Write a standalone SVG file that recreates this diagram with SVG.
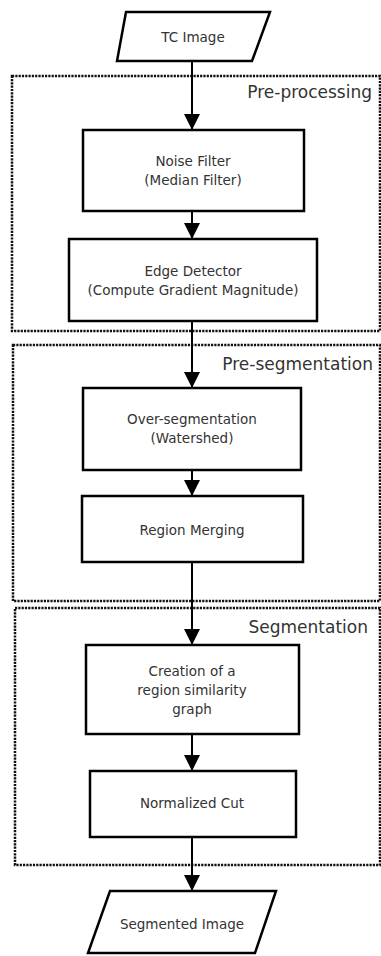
<svg xmlns="http://www.w3.org/2000/svg" width="381" height="956" viewBox="0 0 381 956">
<style>
  .box { fill: #ffffff; stroke: #000000; stroke-width: 2.5; }
  .grp { fill: none; stroke: #111111; stroke-width: 2.5; stroke-dasharray: 2.2 1.1; }
  .t { font-family: "DejaVu Sans", Verdana, sans-serif; font-size: 13.5px; fill: #333333; text-anchor: middle; }
  .lbl { font-family: "DejaVu Sans", Verdana, sans-serif; font-size: 17px; fill: #333333; text-anchor: end; }
  .edge { stroke: #000000; stroke-width: 2; fill: none; marker-end: url(#arr); }
</style>
<defs>
  <marker id="arr" viewBox="0 0 16 16" refX="16" refY="8" markerWidth="16" markerHeight="16" markerUnits="userSpaceOnUse" orient="auto">
    <path d="M0,0 L16,8 L0,16 Z" fill="#000000"/>
  </marker>
</defs>
<rect width="381" height="956" fill="#ffffff"/>

<g id="groups">
  <g id="preprocessing">
    <rect class="grp" x="12" y="76" width="368" height="255"/>
    <text class="lbl" x="372" y="98">Pre-processing</text>
  </g>
  <g id="presegmentation">
    <rect class="grp" x="13" y="345" width="367" height="256"/>
    <text class="lbl" x="373" y="370">Pre-segmentation</text>
  </g>
  <g id="segmentation">
    <rect class="grp" x="15" y="608" width="365" height="257"/>
    <text class="lbl" x="368" y="633">Segmentation</text>
  </g>
</g>

<g id="connectors">
  <line class="edge" x1="192" y1="61" x2="192" y2="130"/>
  <line class="edge" x1="192" y1="211" x2="192" y2="239"/>
  <line class="edge" x1="192" y1="321" x2="192" y2="388"/>
  <line class="edge" x1="192" y1="470" x2="192" y2="496"/>
  <line class="edge" x1="192" y1="562" x2="192" y2="645"/>
  <line class="edge" x1="192" y1="734" x2="192" y2="771"/>
  <line class="edge" x1="192" y1="837" x2="192" y2="891"/>
</g>

<g id="tc-image">
  <polygon class="box" points="126,12 270,12 252,61 117,61"/>
  <text class="t" x="193" y="41.5">TC Image</text>
</g>

<g id="noise-filter">
  <rect class="box" x="83" y="130" width="221" height="81"/>
  <text class="t" x="193" y="166">Noise Filter</text>
  <text class="t" x="193" y="185">(Median Filter)</text>
</g>

<g id="edge-detector">
  <rect class="box" x="69" y="239" width="248" height="82"/>
  <text class="t" x="193" y="276">Edge Detector</text>
  <text class="t" x="193" y="295">(Compute Gradient Magnitude)</text>
</g>

<g id="over-segmentation">
  <rect class="box" x="83" y="388" width="218" height="82"/>
  <text class="t" x="192" y="424">Over-segmentation</text>
  <text class="t" x="192" y="443">(Watershed)</text>
</g>

<g id="region-merging">
  <rect class="box" x="82" y="496" width="221" height="66"/>
  <text class="t" x="192" y="535">Region Merging</text>
</g>

<g id="similarity-graph">
  <rect class="box" x="86" y="645" width="213" height="89"/>
  <text class="t" x="192" y="676">Creation of a</text>
  <text class="t" x="192" y="695">region similarity</text>
  <text class="t" x="192" y="714">graph</text>
</g>

<g id="normalized-cut">
  <rect class="box" x="90" y="771" width="206" height="66"/>
  <text class="t" x="192" y="808">Normalized Cut</text>
</g>

<g id="segmented-image">
  <polygon class="box" points="110,891 276,891 255,953 88,953"/>
  <text class="t" x="182" y="929">Segmented Image</text>
</g>
</svg>
